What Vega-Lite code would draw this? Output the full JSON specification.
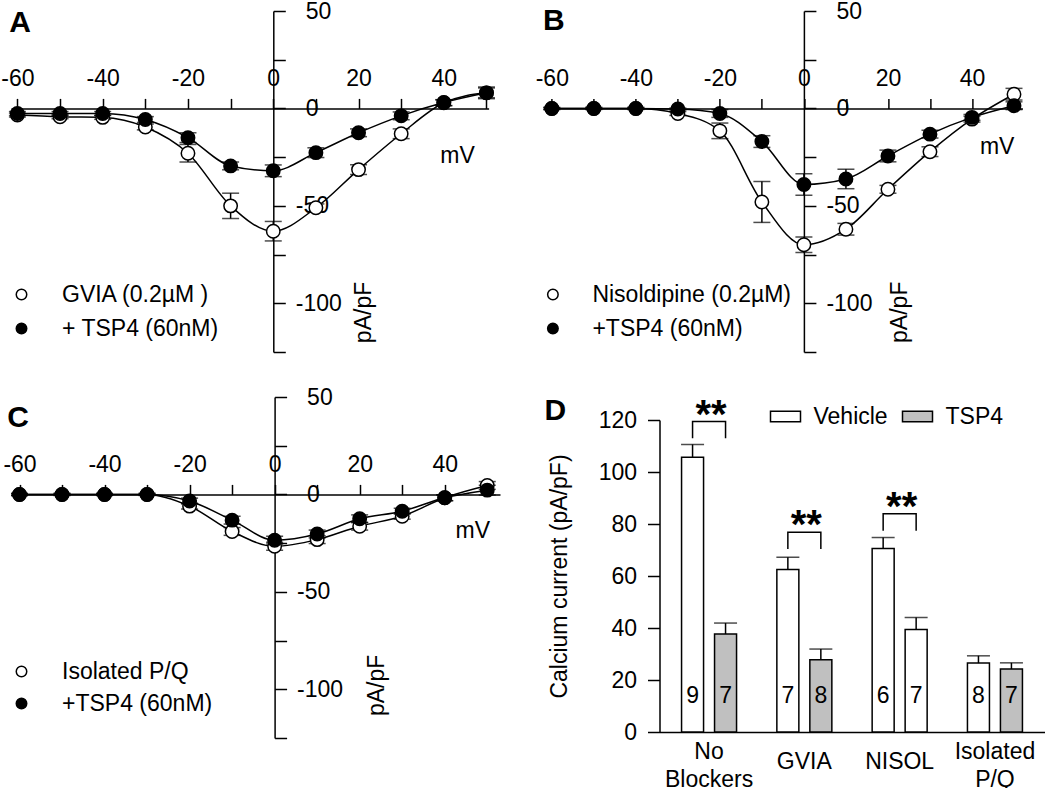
{
  "$schema": "https://vega.github.io/schema/vega-lite/v6.json",
  "background": "white",
  "padding": 0,
  "datasets": {
    "A": [
      {"s": "GVIA (0.2µM )", "mv": -60, "v": -3.4, "e": 1},
      {"s": "GVIA (0.2µM )", "mv": -50, "v": -4.3, "e": 1},
      {"s": "GVIA (0.2µM )", "mv": -40, "v": -4.6, "e": 1},
      {"s": "GVIA (0.2µM )", "mv": -30, "v": -9.5, "e": 1.5},
      {"s": "GVIA (0.2µM )", "mv": -20, "v": -23, "e": 4.5},
      {"s": "GVIA (0.2µM )", "mv": -10, "v": -50, "e": 6.5},
      {"s": "GVIA (0.2µM )", "mv": 0, "v": -63, "e": 5},
      {"s": "GVIA (0.2µM )", "mv": 10, "v": -51, "e": 2},
      {"s": "GVIA (0.2µM )", "mv": 20, "v": -31.4, "e": 2.5},
      {"s": "GVIA (0.2µM )", "mv": 30, "v": -13, "e": 2.5},
      {"s": "GVIA (0.2µM )", "mv": 40, "v": 2.9, "e": 1.5},
      {"s": "GVIA (0.2µM )", "mv": 50, "v": 8, "e": 2.5},
      {"s": "+ TSP4 (60nM)", "mv": -60, "v": -2.6, "e": 1},
      {"s": "+ TSP4 (60nM)", "mv": -50, "v": -2.6, "e": 1},
      {"s": "+ TSP4 (60nM)", "mv": -40, "v": -2.6, "e": 1},
      {"s": "+ TSP4 (60nM)", "mv": -30, "v": -5.7, "e": 1.5},
      {"s": "+ TSP4 (60nM)", "mv": -20, "v": -15, "e": 2.5},
      {"s": "+ TSP4 (60nM)", "mv": -10, "v": -29.5, "e": 2},
      {"s": "+ TSP4 (60nM)", "mv": 0, "v": -32, "e": 3},
      {"s": "+ TSP4 (60nM)", "mv": 10, "v": -22.7, "e": 2.5},
      {"s": "+ TSP4 (60nM)", "mv": 20, "v": -12.5, "e": 2},
      {"s": "+ TSP4 (60nM)", "mv": 30, "v": -3.8, "e": 2},
      {"s": "+ TSP4 (60nM)", "mv": 40, "v": 3, "e": 1.5},
      {"s": "+ TSP4 (60nM)", "mv": 50, "v": 8, "e": 3}
    ],
    "B": [
      {"s": "Nisoldipine (0.2µM)", "mv": -60, "v": 0, "e": 0.5},
      {"s": "Nisoldipine (0.2µM)", "mv": -50, "v": 0, "e": 0.5},
      {"s": "Nisoldipine (0.2µM)", "mv": -40, "v": 0, "e": 0.5},
      {"s": "Nisoldipine (0.2µM)", "mv": -30, "v": -2.6, "e": 1},
      {"s": "Nisoldipine (0.2µM)", "mv": -20, "v": -11.5, "e": 4},
      {"s": "Nisoldipine (0.2µM)", "mv": -10, "v": -48, "e": 10.5},
      {"s": "Nisoldipine (0.2µM)", "mv": 0, "v": -70, "e": 4},
      {"s": "Nisoldipine (0.2µM)", "mv": 10, "v": -62, "e": 3},
      {"s": "Nisoldipine (0.2µM)", "mv": 20, "v": -41.5, "e": 2},
      {"s": "Nisoldipine (0.2µM)", "mv": 30, "v": -22.2, "e": 2.5},
      {"s": "Nisoldipine (0.2µM)", "mv": 40, "v": -5.5, "e": 1.5},
      {"s": "Nisoldipine (0.2µM)", "mv": 50, "v": 7.3, "e": 3},
      {"s": "+TSP4 (60nM)", "mv": -60, "v": 0, "e": 0.5},
      {"s": "+TSP4 (60nM)", "mv": -50, "v": 0, "e": 0.5},
      {"s": "+TSP4 (60nM)", "mv": -40, "v": 0, "e": 0.5},
      {"s": "+TSP4 (60nM)", "mv": -30, "v": -0.3, "e": 0.5},
      {"s": "+TSP4 (60nM)", "mv": -20, "v": -2.6, "e": 2},
      {"s": "+TSP4 (60nM)", "mv": -10, "v": -17, "e": 3},
      {"s": "+TSP4 (60nM)", "mv": 0, "v": -39, "e": 5.5},
      {"s": "+TSP4 (60nM)", "mv": 10, "v": -36.2, "e": 5},
      {"s": "+TSP4 (60nM)", "mv": 20, "v": -24.4, "e": 3},
      {"s": "+TSP4 (60nM)", "mv": 30, "v": -13.2, "e": 2},
      {"s": "+TSP4 (60nM)", "mv": 40, "v": -4.6, "e": 1.5},
      {"s": "+TSP4 (60nM)", "mv": 50, "v": 1.4, "e": 2}
    ],
    "C": [
      {"s": "Isolated P/Q", "mv": -60, "v": 0, "e": 0.5},
      {"s": "Isolated P/Q", "mv": -50, "v": 0, "e": 0.5},
      {"s": "Isolated P/Q", "mv": -40, "v": 0, "e": 0.5},
      {"s": "Isolated P/Q", "mv": -30, "v": 0, "e": 0.5},
      {"s": "Isolated P/Q", "mv": -20, "v": -6, "e": 1.5},
      {"s": "Isolated P/Q", "mv": -10, "v": -19, "e": 2},
      {"s": "Isolated P/Q", "mv": 0, "v": -26.6, "e": 2},
      {"s": "Isolated P/Q", "mv": 10, "v": -23.2, "e": 2},
      {"s": "Isolated P/Q", "mv": 20, "v": -16.3, "e": 2},
      {"s": "Isolated P/Q", "mv": 30, "v": -11.2, "e": 1.5},
      {"s": "Isolated P/Q", "mv": 40, "v": -1.7, "e": 1.5},
      {"s": "Isolated P/Q", "mv": 50, "v": 4.6, "e": 2},
      {"s": "+TSP4 (60nM)", "mv": -60, "v": 0, "e": 0.5},
      {"s": "+TSP4 (60nM)", "mv": -50, "v": 0, "e": 0.5},
      {"s": "+TSP4 (60nM)", "mv": -40, "v": 0, "e": 0.5},
      {"s": "+TSP4 (60nM)", "mv": -30, "v": 0, "e": 0.5},
      {"s": "+TSP4 (60nM)", "mv": -20, "v": -3.4, "e": 1.5},
      {"s": "+TSP4 (60nM)", "mv": -10, "v": -13.2, "e": 2},
      {"s": "+TSP4 (60nM)", "mv": 0, "v": -23.5, "e": 2},
      {"s": "+TSP4 (60nM)", "mv": 10, "v": -20.3, "e": 2},
      {"s": "+TSP4 (60nM)", "mv": 20, "v": -12.5, "e": 2},
      {"s": "+TSP4 (60nM)", "mv": 30, "v": -8.6, "e": 1.5},
      {"s": "+TSP4 (60nM)", "mv": 40, "v": -1.7, "e": 1.5},
      {"s": "+TSP4 (60nM)", "mv": 50, "v": 2.2, "e": 2.5}
    ],
    "D": [
      {"g": "No Blockers", "s": "Vehicle", "v": 105.7, "hi": 110.6, "n": "9"},
      {"g": "No Blockers", "s": "TSP4", "v": 37.7, "hi": 41.9, "n": "7"},
      {"g": "GVIA", "s": "Vehicle", "v": 62.5, "hi": 67.2, "n": "7"},
      {"g": "GVIA", "s": "TSP4", "v": 27.8, "hi": 31.9, "n": "8"},
      {"g": "NISOL", "s": "Vehicle", "v": 70.6, "hi": 74.8, "n": "6"},
      {"g": "NISOL", "s": "TSP4", "v": 39.4, "hi": 44.0, "n": "7"},
      {"g": "Isolated P/Q", "s": "Vehicle", "v": 26.5, "hi": 29.3, "n": "8"},
      {"g": "Isolated P/Q", "s": "TSP4", "v": 24.2, "hi": 26.6, "n": "7"}
    ],
    "Dbr": [
      {"g": "No Blockers", "s": "Vehicle", "v": 113, "o": 0},
      {"g": "No Blockers", "s": "Vehicle", "v": 119.4, "o": 1},
      {"g": "No Blockers", "s": "TSP4", "v": 119.4, "o": 2},
      {"g": "No Blockers", "s": "TSP4", "v": 113, "o": 3},
      {"g": "GVIA", "s": "Vehicle", "v": 70.4, "o": 0},
      {"g": "GVIA", "s": "Vehicle", "v": 76.8, "o": 1},
      {"g": "GVIA", "s": "TSP4", "v": 76.8, "o": 2},
      {"g": "GVIA", "s": "TSP4", "v": 70.4, "o": 3},
      {"g": "NISOL", "s": "Vehicle", "v": 77.4, "o": 0},
      {"g": "NISOL", "s": "Vehicle", "v": 83.9, "o": 1},
      {"g": "NISOL", "s": "TSP4", "v": 83.9, "o": 2},
      {"g": "NISOL", "s": "TSP4", "v": 77.4, "o": 3}
    ],
    "Dstar": [
      {"g": "No Blockers", "v": 119.4},
      {"g": "GVIA", "v": 76.8},
      {"g": "NISOL", "v": 83.9}
    ]
  },
  "vconcat": [
    {
      "hconcat": [
        {
          "width": 477.6,
          "height": 341,
          "layer": [
            {"data": {"name": "A"}, "mark": {"type": "line", "interpolate": "monotone", "color": "black", "strokeWidth": 1.5},
              "encoding": {
                "x": {"field": "mv", "type": "quantitative", "scale": {"domain": [-61.5, 50.5], "nice": false, "zero": false},
                  "axis": {"orient": "top", "offset": -97.4, "values": [-60, -50, -40, -30, -20, -10, 0, 10, 20, 30, 40, 50], "labelExpr": "datum.value % 20 === 0 ? toString(datum.value) : ''", "tickSize": 10, "labelPadding": 8, "labelFontSize": 23, "title": null, "domainWidth": 1.5, "tickWidth": 1.5, "labelOverlap": false, "labelFlush": false}},
                "y": {"field": "v", "type": "quantitative", "scale": {"domain": [-125, 50], "nice": false, "zero": false},
                  "axis": {"orient": "right", "offset": -215.3, "values": [50, 25, 0, -25, -50, -75, -100, -125], "labelExpr": "datum.value % 50 === 0 ? toString(datum.value) : ''", "tickSize": 12, "labelPadding": {"condition": {"test": "datum.value >= 0", "value": 20}, "value": 10}, "labelFontSize": 23, "labelAlign": "left", "title": null, "domainWidth": 1.5, "tickWidth": 1.5, "labelOverlap": false, "labelFlush": false}},
                "detail": {"field": "s"}
              }},
            {"data": {"name": "A"}, "mark": {"type": "errorbar", "ticks": true, "size": 17, "thickness": 1.5, "color": "black"},
              "encoding": {
                "x": {"field": "mv", "type": "quantitative", "scale": {"domain": [-61.5, 50.5], "nice": false, "zero": false}},
                "y": {"field": "v", "type": "quantitative", "scale": {"domain": [-125, 50], "nice": false, "zero": false}},
                "yError": {"field": "e"}
              }},
            {"data": {"name": "A"}, "mark": {"type": "point", "shape": "circle", "filled": true, "size": 180, "stroke": "black", "strokeWidth": 1.5, "opacity": 1},
              "encoding": {
                "x": {"field": "mv", "type": "quantitative", "scale": {"domain": [-61.5, 50.5], "nice": false, "zero": false}},
                "y": {"field": "v", "type": "quantitative", "scale": {"domain": [-125, 50], "nice": false, "zero": false}},
                "fill": {"field": "s", "type": "nominal", "scale": {"domain": ["GVIA (0.2µM )", "+ TSP4 (60nM)"], "range": ["white", "black"]},
                  "legend": {"orient": "none", "legendX": -1, "legendY": 272, "title": null, "symbolType": "circle", "symbolSize": 110, "symbolStrokeColor": "black", "symbolStrokeWidth": 1.5, "labelFontSize": 23, "labelOffset": 29, "rowPadding": 10, "labelLimit": 400, "symbolOpacity": 1}}
              }},
            {"data": {"values": [{}]}, "mark": {"type": "text", "text": "mV", "fontSize": 23}, "encoding": {"x": {"datum": 43.2}, "y": {"datum": -24.2}}},
            {"data": {"values": [{}]}, "mark": {"type": "text", "text": "pA/pF", "fontSize": 23, "angle": 270}, "encoding": {"x": {"datum": 21.3}, "y": {"datum": -104.7}}},
            {"data": {"values": [{}]}, "mark": {"type": "text", "text": "A", "fontSize": 30, "fontWeight": "bold"}, "encoding": {"x": {"datum": -59.4}, "y": {"datum": 43.6}}}
          ]
        },
        {
          "width": 479,
          "height": 341,
          "layer": [
            {"data": {"name": "B"}, "mark": {"type": "line", "interpolate": "monotone", "color": "black", "strokeWidth": 1.5},
              "encoding": {
                "x": {"field": "mv", "type": "quantitative", "scale": {"domain": [-62, 52], "nice": false, "zero": false},
                  "axis": {"orient": "top", "offset": -97.4, "values": [-60, -50, -40, -30, -20, -10, 0, 10, 20, 30, 40, 50], "labelExpr": "datum.value % 20 === 0 ? toString(datum.value) : ''", "tickSize": 10, "labelPadding": 8, "labelFontSize": 23, "title": null, "domainWidth": 1.5, "tickWidth": 1.5, "labelOverlap": false, "labelFlush": false}},
                "y": {"field": "v", "type": "quantitative", "scale": {"domain": [-125, 50], "nice": false, "zero": false},
                  "axis": {"orient": "right", "offset": -218.5, "values": [50, 25, 0, -25, -50, -75, -100, -125], "labelExpr": "datum.value % 50 === 0 ? toString(datum.value) : ''", "tickSize": 12, "labelPadding": {"condition": {"test": "datum.value >= 0", "value": 20}, "value": 10}, "labelFontSize": 23, "labelAlign": "left", "title": null, "domainWidth": 1.5, "tickWidth": 1.5, "labelOverlap": false, "labelFlush": false}},
                "detail": {"field": "s"}
              }},
            {"data": {"name": "B"}, "mark": {"type": "errorbar", "ticks": true, "size": 17, "thickness": 1.5, "color": "black"},
              "encoding": {
                "x": {"field": "mv", "type": "quantitative", "scale": {"domain": [-62, 52], "nice": false, "zero": false}},
                "y": {"field": "v", "type": "quantitative", "scale": {"domain": [-125, 50], "nice": false, "zero": false}},
                "yError": {"field": "e"}
              }},
            {"data": {"name": "B"}, "mark": {"type": "point", "shape": "circle", "filled": true, "size": 180, "stroke": "black", "strokeWidth": 1.5, "opacity": 1},
              "encoding": {
                "x": {"field": "mv", "type": "quantitative", "scale": {"domain": [-62, 52], "nice": false, "zero": false}},
                "y": {"field": "v", "type": "quantitative", "scale": {"domain": [-125, 50], "nice": false, "zero": false}},
                "fill": {"field": "s", "type": "nominal", "scale": {"domain": ["Nisoldipine (0.2µM)", "+TSP4 (60nM)"], "range": ["white", "black"]},
                  "legend": {"orient": "none", "legendX": -2, "legendY": 272, "title": null, "symbolType": "circle", "symbolSize": 110, "symbolStrokeColor": "black", "symbolStrokeWidth": 1.5, "labelFontSize": 23, "labelOffset": 28, "rowPadding": 10, "labelLimit": 400, "symbolOpacity": 1}}
              }},
            {"data": {"values": [{}]}, "mark": {"type": "text", "text": "mV", "fontSize": 23}, "encoding": {"x": {"datum": 46}, "y": {"datum": -20}}},
            {"data": {"values": [{}]}, "mark": {"type": "text", "text": "pA/pF", "fontSize": 23, "angle": 270}, "encoding": {"x": {"datum": 22.9}, "y": {"datum": -104.6}}},
            {"data": {"values": [{}]}, "mark": {"type": "text", "text": "B", "fontSize": 30, "fontWeight": "bold"}, "encoding": {"x": {"datum": -59.5}, "y": {"datum": 45.1}}}
          ]
        }
      ],
      "spacing": 54.4,
      "bounds": "flush",
      "resolve": {"scale": {"fill": "independent"}, "legend": {"fill": "independent"}}
    },
    {
      "hconcat": [
        {
          "width": 489,
          "height": 341,
          "layer": [
            {"data": {"name": "C"}, "mark": {"type": "line", "interpolate": "monotone", "color": "black", "strokeWidth": 1.5},
              "encoding": {
                "x": {"field": "mv", "type": "quantitative", "scale": {"domain": [-62, 53], "nice": false, "zero": false},
                  "axis": {"orient": "top", "offset": -97.4, "values": [-60, -50, -40, -30, -20, -10, 0, 10, 20, 30, 40, 50], "labelExpr": "datum.value % 20 === 0 ? toString(datum.value) : ''", "tickSize": 10, "labelPadding": 8, "labelFontSize": 23, "title": null, "domainWidth": 1.5, "tickWidth": 1.5, "labelOverlap": false, "labelFlush": false}},
                "y": {"field": "v", "type": "quantitative", "scale": {"domain": [-125, 50], "nice": false, "zero": false},
                  "axis": {"orient": "right", "offset": -225.4, "values": [50, 25, 0, -25, -50, -75, -100, -125], "labelExpr": "datum.value % 50 === 0 ? toString(datum.value) : ''", "tickSize": 12, "labelPadding": {"condition": {"test": "datum.value >= 0", "value": 20}, "value": 10}, "labelFontSize": 23, "labelAlign": "left", "title": null, "domainWidth": 1.5, "tickWidth": 1.5, "labelOverlap": false, "labelFlush": false}},
                "detail": {"field": "s"}
              }},
            {"data": {"name": "C"}, "mark": {"type": "errorbar", "ticks": true, "size": 17, "thickness": 1.5, "color": "black"},
              "encoding": {
                "x": {"field": "mv", "type": "quantitative", "scale": {"domain": [-62, 53], "nice": false, "zero": false}},
                "y": {"field": "v", "type": "quantitative", "scale": {"domain": [-125, 50], "nice": false, "zero": false}},
                "yError": {"field": "e"}
              }},
            {"data": {"name": "C"}, "mark": {"type": "point", "shape": "circle", "filled": true, "size": 180, "stroke": "black", "strokeWidth": 1.5, "opacity": 1},
              "encoding": {
                "x": {"field": "mv", "type": "quantitative", "scale": {"domain": [-62, 53], "nice": false, "zero": false}},
                "y": {"field": "v", "type": "quantitative", "scale": {"domain": [-125, 50], "nice": false, "zero": false}},
                "fill": {"field": "s", "type": "nominal", "scale": {"domain": ["Isolated P/Q", "+TSP4 (60nM)"], "range": ["white", "black"]},
                  "legend": {"orient": "none", "legendX": -1, "legendY": 263, "title": null, "symbolType": "circle", "symbolSize": 110, "symbolStrokeColor": "black", "symbolStrokeWidth": 1.5, "labelFontSize": 23, "labelOffset": 29, "rowPadding": 8, "labelLimit": 400, "symbolOpacity": 1}}
              }},
            {"data": {"values": [{}]}, "mark": {"type": "text", "text": "mV", "fontSize": 23}, "encoding": {"x": {"datum": 46.6}, "y": {"datum": -19}}},
            {"data": {"values": [{}]}, "mark": {"type": "text", "text": "pA/pF", "fontSize": 23, "angle": 270}, "encoding": {"x": {"datum": 24}, "y": {"datum": -98}}},
            {"data": {"values": [{}]}, "mark": {"type": "text", "text": "C", "fontSize": 30, "fontWeight": "bold"}, "encoding": {"x": {"datum": -60.35}, "y": {"datum": 39}}}
          ]
        },
        {
          "width": 385,
          "height": 335,
          "title": {"text": "D", "anchor": "start", "frame": "group", "fontSize": 30, "fontWeight": "bold", "dx": -115, "dy": 30, "offset": 0},
          "layer": [
            {
              "data": {"name": "D"},
              "mark": {"type": "bar", "stroke": "black", "strokeWidth": 1.5},
              "encoding": {
                "x": {"field": "g", "type": "nominal", "scale": {"domain": ["No Blockers", "GVIA", "NISOL", "Isolated P/Q"], "paddingInner": 0.2, "paddingOuter": 0.12},
                  "axis": {"title": null, "ticks": false, "tickSize": 0, "labelExpr": "split(datum.label, ' ')", "labelFontSize": 23, "labelPadding": {"condition": {"test": "indexof(datum.value, ' ') > 0", "value": 19}, "value": 29}, "labelBaseline": "middle", "labelLineHeight": 28, "labelAngle": 0, "domainWidth": 1.5, "labelOverlap": false}},
                "xOffset": {"field": "s", "type": "nominal", "scale": {"domain": ["Vehicle", "TSP4"], "paddingInner": 0.333, "paddingOuter": 0.322}},
                "y": {"field": "v", "type": "quantitative", "scale": {"domain": [0, 120], "range": [335, 23], "nice": false},
                  "axis": {"values": [0, 20, 40, 60, 80, 100, 120], "title": "Calcium current (pA/pF)", "titleFontSize": 23, "titleFontWeight": "normal", "titlePadding": 27, "labelFontSize": 23, "tickSize": 12, "labelPadding": 11, "domainWidth": 1.5, "tickWidth": 1.5}},
                "fill": {"condition": {"test": "datum.g === 'NISOL'", "value": "white"}, "field": "s", "type": "nominal", "scale": {"domain": ["Vehicle", "TSP4"], "range": ["white", "#c0c0c0"]},
                  "legend": {"orient": "none", "legendX": 110, "legendY": 3.5, "direction": "horizontal", "title": null, "symbolType": "M-1,-0.35H1V0.35H-1Z", "symbolSize": 900, "symbolStrokeColor": "black", "symbolStrokeWidth": 1.5, "labelFontSize": 23, "labelOffset": 12, "columnPadding": 11, "symbolOpacity": 1}}
              }
            },
            {
              "data": {"name": "D"},
              "mark": {"type": "rule", "color": "black", "strokeWidth": 1.5},
              "encoding": {
                "x": {"field": "g", "type": "nominal"},
                "xOffset": {"field": "s", "type": "nominal"},
                "y": {"field": "v", "type": "quantitative"},
                "y2": {"field": "hi"}
              }
            },
            {
              "data": {"name": "D"},
              "mark": {"type": "tick", "color": "black", "thickness": 1.5, "size": 23},
              "encoding": {
                "x": {"field": "g", "type": "nominal"},
                "xOffset": {"field": "s", "type": "nominal"},
                "y": {"field": "hi", "type": "quantitative"}
              }
            },
            {
              "data": {"name": "D"},
              "mark": {"type": "text", "fontSize": 23, "baseline": "middle"},
              "encoding": {
                "x": {"field": "g", "type": "nominal"},
                "xOffset": {"field": "s", "type": "nominal"},
                "y": {"datum": 14},
                "text": {"field": "n"}
              }
            },
            {
              "data": {"name": "Dbr"},
              "mark": {"type": "line", "color": "black", "strokeWidth": 1.5},
              "encoding": {
                "x": {"field": "g", "type": "nominal"},
                "xOffset": {"field": "s", "type": "nominal"},
                "y": {"field": "v", "type": "quantitative"},
                "detail": {"field": "g"},
                "order": {"field": "o"}
              }
            },
            {
              "data": {"name": "Dstar"},
              "mark": {"type": "text", "text": "**", "fontSize": 40, "fontWeight": "bold", "dy": -6, "dx": 2},
              "encoding": {
                "x": {"field": "g", "type": "nominal"},
                "y": {"field": "v", "type": "quantitative"}
              }
            }
          ]
        }
      ],
      "spacing": 159.5,
      "bounds": "flush",
      "resolve": {"scale": {"fill": "independent"}, "legend": {"fill": "independent"}}
    }
  ],
  "spacing": 22,
  "resolve": {"scale": {"fill": "independent"}, "legend": {"fill": "independent"}},
  "config": {
    "view": {"stroke": null},
    "font": "Liberation Sans",
    "axis": {"domainColor": "black", "tickColor": "black", "labelColor": "black", "titleColor": "black", "labelFont": "Liberation Sans", "titleFont": "Liberation Sans", "grid": false},
    "legend": {"labelFont": "Liberation Sans", "labelColor": "black"},
    "text": {"font": "Liberation Sans", "color": "black"},
    "title": {"font": "Liberation Sans", "color": "black"}
  }
}
